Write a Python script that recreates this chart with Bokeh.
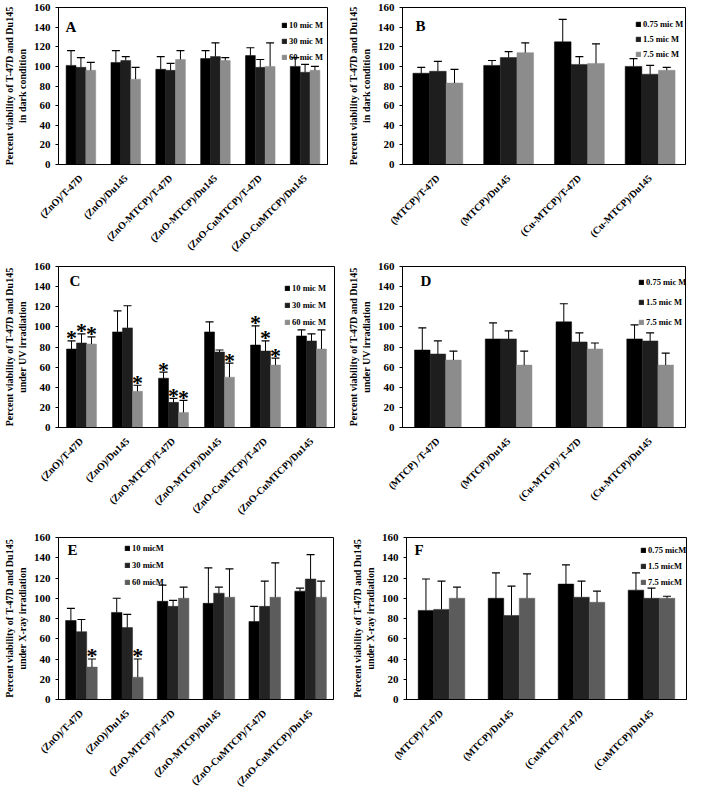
from bokeh.plotting import figure
from bokeh.models import (ColumnDataSource, FactorRange, Range1d, FixedTicker,
                          Legend, LegendItem, Label)
from bokeh.transform import dodge
from bokeh.core.properties import value
from bokeh.layouts import column, row
from bokeh.embed import file_html
from bokeh.resources import INLINE
from math import pi

FONT = "Liberation Serif"

# ---------------- data ----------------
zn_cats = ["(ZnO)/T-47D", "(ZnO)/Du145", "(ZnO-MTCP)/T-47D",
           "(ZnO-MTCP)/Du145", "(ZnO-CuMTCP)/T-47D", "(ZnO-CuMTCP)/Du145"]
b_cats = ["(MTCP)/T-47D", "(MTCP)/Du145", "(Cu-MTCP)/T-47D", "(Cu-MTCP)/Du145"]
d_cats = ["(MTCP) /T-47D", "(MTCP)/Du145", "(Cu-MTCP)/ T-47D", "(Cu-MTCP)/Du145"]
f_cats = ["(MTCP)/T-47D", "(MTCP)/Du145", "(CuMTCP)/T-47D", "(CuMTCP)/Du145"]

lab_zn = ["10 mic M", "30 mic M", "60 mic M"]
lab_m = ["0.75 mic M", "1.5 mic M", "7.5 mic M"]
lab_e = ["10 micM", "30 micM", "60 micM"]
lab_f = ["0.75 micM", "1.5 micM", "7.5 micM"]

# Panel A (dark, ZnO composites)
A_10 = [101, 104, 97, 108, 111, 100]
A_10_err = [15, 12, 13, 8, 8, 9]
A_30 = [99, 106, 96, 110, 99, 94]
A_30_err = [10, 4, 7, 14, 8, 8]
A_60 = [96, 87, 107, 106, 100, 96]
A_60_err = [8, 12, 9, 3, 24, 4]

# Panel B (dark, porphyrins)
B_075 = [93, 101, 125, 100]
B_075_err = [6, 5, 23, 8]
B_15 = [95, 109, 102, 92]
B_15_err = [10, 6, 8, 9]
B_75 = [83, 114, 103, 96]
B_75_err = [14, 10, 20, 3]

# Panel C (UV, ZnO composites)
C_10 = [78, 95, 49, 95, 82, 91]
C_10_err = [8, 21, 6, 10, 19, 6]
C_30 = [84, 99, 25, 75, 76, 86]
C_30_err = [9, 22, 4, 2, 10, 7]
C_60 = [83, 36, 15, 50, 62, 78]
C_60_err = [7, 6, 12, 14, 7, 19]
C_10_sig = [1, 0, 1, 0, 1, 0]
C_30_sig = [1, 0, 1, 0, 1, 0]
C_60_sig = [1, 1, 1, 1, 1, 0]

# Panel D (UV, porphyrins)
D_075 = [77, 88, 105, 88]
D_075_err = [22, 16, 18, 14]
D_15 = [73, 88, 85, 86]
D_15_err = [13, 8, 9, 8]
D_75 = [67, 62, 78, 62]
D_75_err = [9, 14, 6, 12]

# Panel E (X-ray, ZnO composites)
E_10 = [78, 86, 97, 95, 77, 107]
E_10_err = [12, 14, 16, 35, 15, 3]
E_30 = [67, 71, 92, 105, 92, 119]
E_30_err = [12, 13, 6, 6, 25, 24]
E_60 = [32, 22, 100, 101, 101, 101]
E_60_err = [8, 18, 11, 28, 34, 16]
E_10_sig = [0, 0, 0, 0, 0, 0]
E_30_sig = [0, 0, 0, 0, 0, 0]
E_60_sig = [1, 1, 0, 0, 0, 0]

# Panel F (X-ray, porphyrins)
F_075 = [88, 100, 114, 108]
F_075_err = [31, 25, 19, 17]
F_15 = [89, 83, 101, 100]
F_15_err = [28, 29, 16, 10]
F_75 = [100, 100, 96, 100]
F_75_err = [11, 24, 11, 2]

y_ticks = [0, 20, 40, 60, 80, 100, 120, 140, 160]

col_light = ["#000000", "#1e1e1e", "#8c8c8c"]
col_dark = ["#000000", "#232323", "#5c5c5c"]

YL1 = "Percent viability of T-47D and Du145"


def panel(letter, letter_xy, cats, series, errs, labels, colors, ylabel,
          width, height, borders, bar_w, legend_loc, sig=None, leg_spacing=6):
    left, right, top, bottom = borders
    p = figure(x_range=FactorRange(*cats), y_range=Range1d(0, 160),
               width=width, height=height, output_backend="svg",
               toolbar_location=None, min_border_left=left,
               min_border_right=right, min_border_top=top,
               min_border_bottom=bottom)
    p.background_fill_color = "white"
    p.border_fill_color = "white"
    p.outline_line_color = "black"
    p.outline_line_width = 1
    p.grid.visible = False

    p.yaxis.ticker = FixedTicker(ticks=y_ticks)
    p.yaxis.minor_tick_line_color = None
    p.yaxis.major_tick_out = 3
    p.yaxis.major_tick_in = 0
    p.yaxis.major_label_standoff = 5
    p.yaxis.axis_label = ylabel
    p.yaxis.axis_label_standoff = 3
    p.yaxis.axis_label_text_font = FONT
    p.yaxis.axis_label_text_font_style = "bold"
    p.yaxis.axis_label_text_font_size = "10px"
    p.yaxis.axis_label_text_color = "black"

    p.xaxis.major_tick_line_color = None
    p.xaxis.major_label_orientation = pi / 4
    p.xaxis.major_label_standoff = 6
    p.xaxis.major_label_text_font_size = "10px"

    for ax in (p.xaxis, p.yaxis):
        ax.major_label_text_font = FONT
        ax.major_label_text_font_style = "bold"
        ax.major_label_text_color = "black"
        ax.axis_line_color = "black"
    p.yaxis.major_label_text_font_size = "11px"

    offsets = [-bar_w, 0.0, bar_w]
    items = []
    for k in range(3):
        caps = [v + e for v, e in zip(series[k], errs[k])]
        src = ColumnDataSource(dict(cat=cats, val=series[k], cap=caps))
        xs = dodge("cat", offsets[k], range=p.x_range)
        r = p.vbar(x=xs, top="val", width=bar_w, source=src,
                   fill_color=colors[k], line_color=colors[k], line_width=0.5)
        p.segment(x0=xs, y0="val", x1=xs, y1="cap", source=src,
                  line_color="black", line_width=1)
        p.scatter(x=xs, y="cap", marker="dash", size=8, source=src,
                  line_color="black", line_width=1.2)
        items.append(LegendItem(label=labels[k], renderers=[r]))
        if sig is not None:
            sc = [c for c, s in zip(cats, sig[k]) if s]
            sy = [cp + 3 for cp, s in zip(caps, sig[k]) if s]
            if sc:
                ssrc = ColumnDataSource(dict(cat=sc, y=sy, t=["*"] * len(sc)))
                p.text(x=dodge("cat", offsets[k], range=p.x_range), y="y",
                       text="t", source=ssrc, text_font=value(FONT),
                       text_font_style="bold", text_font_size="22px",
                       text_align="center", text_baseline="alphabetic",
                       text_color="black")

    legend = Legend(items=items, location=legend_loc,
                    label_text_font=FONT, label_text_font_style="bold",
                    label_text_font_size="8.5px", label_text_color="black",
                    glyph_width=6, glyph_height=6, label_height=9,
                    label_standoff=2, spacing=leg_spacing, padding=0, margin=0,
                    border_line_color=None, background_fill_alpha=0)
    p.add_layout(legend)

    p.add_layout(Label(x=letter_xy[0], y=letter_xy[1], x_units="screen",
                       y_units="data", text=letter, text_font=FONT,
                       text_font_style="bold", text_font_size="15px",
                       text_baseline="middle", text_align="left",
                       text_color="black"))
    return p


pA = panel("A", (7, 140), zn_cats, [A_10, A_30, A_60],
           [A_10_err, A_30_err, A_60_err], lab_zn, col_light,
           YL1 + "\nin dark condition", 344, 259, (53, 17, 5, 94), 0.22,
           (223, 102))
pB = panel("B", (13, 141), b_cats, [B_075, B_15, B_75],
           [B_075_err, B_15_err, B_75_err], lab_m, col_light,
           YL1 + "\nin dark condition", 344, 259, (51, 3, 7, 94), 0.235,
           (233, 105), leg_spacing=5)
pC = panel("C", (11, 146), zn_cats, [C_10, C_30, C_60],
           [C_10_err, C_30_err, C_60_err], lab_zn, col_light,
           YL1 + "\nunder UV irradiation", 344, 272, (49, 10, 7, 104), 0.217,
           (226, 100), sig=[C_10_sig, C_30_sig, C_60_sig], leg_spacing=7)
pD = panel("D", (18, 146), d_cats, [D_075, D_15, D_75],
           [D_075_err, D_15_err, D_75_err], lab_m, col_light,
           YL1 + "\nunder UV irradiation", 344, 272, (46, 3, 7, 100), 0.22,
           (236, 100), leg_spacing=10)
pE = panel("E", (9, 148), zn_cats, [E_10, E_30, E_60],
           [E_10_err, E_30_err, E_60_err], lab_e, col_dark,
           YL1 + "\nunder X-ray irradiation", 344, 263, (51, 11, 6, 90), 0.23,
           (66, 112), sig=[E_10_sig, E_30_sig, E_60_sig], leg_spacing=7)
pF = panel("F", (8, 148), f_cats, [F_075, F_15, F_75],
           [F_075_err, F_15_err, F_75_err], lab_f, col_dark,
           YL1 + "\nunder X-ray irradiation", 344, 263, (62, 2, 6, 87), 0.222,
           (234, 112), leg_spacing=6)

layout = column(row(pA, pB), row(pC, pD), row(pE, pF))

open("out.html", "w").write(file_html(layout, INLINE))
